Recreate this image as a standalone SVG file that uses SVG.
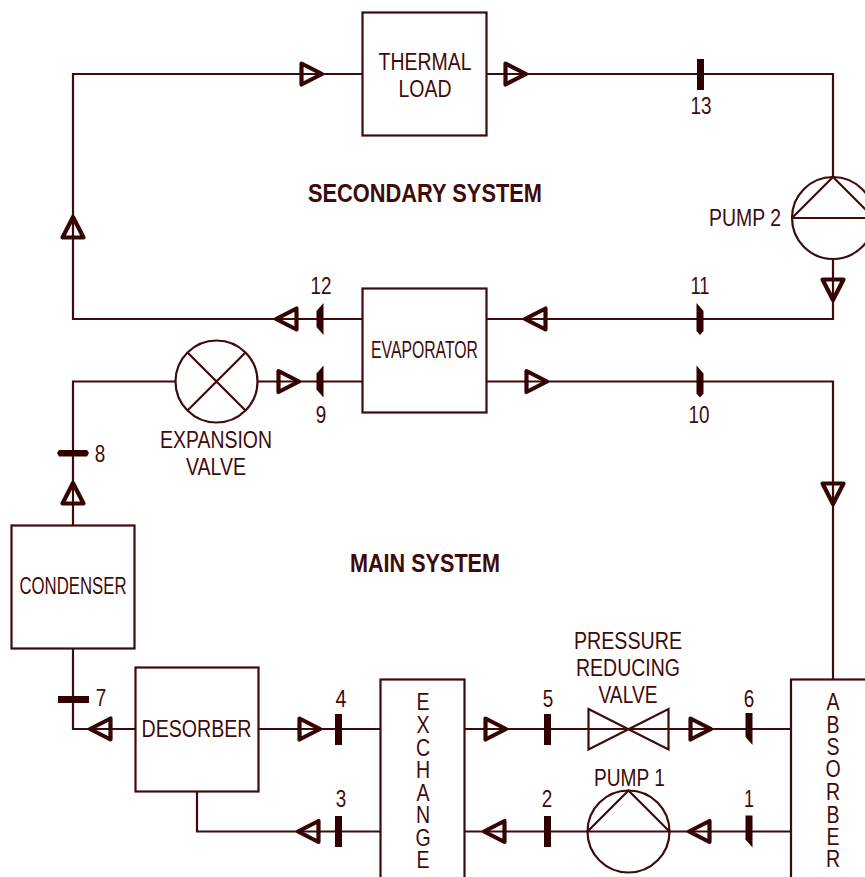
<svg xmlns="http://www.w3.org/2000/svg" width="865" height="877" viewBox="0 0 865 877">
<style>
.l{fill:none;stroke:#3f0a0a;stroke-width:2.2}
.b{fill:#fff;stroke:#3f0a0a;stroke-width:2.2}
.a{fill:none;stroke:#350404;stroke-width:4.200;stroke-linejoin:round}
.t{fill:#300000;stroke:none}
text{font-family:"Liberation Sans",Arial,sans-serif;font-size:23px;fill:#3f0a0a;text-anchor:middle}
.n{font-size:23px}
.h{font-weight:bold;font-size:25px}
</style>
<defs>
<path id="ar" class="a" d="M-9.500-10.500 L11 0 L-9.500 10.500Z"/>
<rect id="bar" class="t" x="-3.500" y="-15.500" width="7" height="31"/>
<path id="tick-a" class="t" d="M-3.500-16 L3.500-16 L3.500 16 L-3.500 8Z"/>
<path id="tick-b" class="t" d="M3.500-16 L3.500 16 L-3.500 8 L-3.500-8Z"/>
<path id="tick-c" class="t" d="M-3.500-16 L3.500-8 L3.500 12 L0 16 L-3.500 12Z"/>
</defs>
<g id="connectors">
<path class="l" d="M362 74H73V319H362M487 74H833V178M833 258V319H487M175 381.500H73V525M258 381.500H362M487 381.500H833V679M73 649V729H135M259 729H380M197 791V831.500H380M465 729H588M668 729H791M465 831.500H587M670 831.500H791"/>
<use href="#ar" x="311" y="74"/>
<use href="#ar" x="515" y="74"/>
<use href="#ar" transform="translate(833,289) rotate(90)"/>
<use href="#ar" transform="translate(536,319) rotate(180)"/>
<use href="#ar" transform="translate(287,319) rotate(180)"/>
<use href="#ar" transform="translate(73,228) rotate(-90)"/>
<use href="#ar" x="288" y="381.500"/>
<use href="#ar" x="536" y="381.500"/>
<use href="#ar" transform="translate(833,493) rotate(90)"/>
<use href="#ar" transform="translate(73,494) rotate(-90)"/>
<use href="#ar" transform="translate(101,729) rotate(180)"/>
<use href="#ar" x="309" y="729"/>
<use href="#ar" x="495" y="729"/>
<use href="#ar" x="700" y="729"/>
<use href="#ar" transform="translate(309,831.500) rotate(180)"/>
<use href="#ar" transform="translate(495,831.500) rotate(180)"/>
<use href="#ar" transform="translate(700,831.500) rotate(180)"/>
<use href="#bar" x="700.500" y="74.500"/>
<use href="#tick-c" x="700" y="319"/>
<use href="#tick-c" x="700" y="381.500"/>
<use href="#tick-b" x="320" y="319"/>
<use href="#tick-b" x="320" y="381.500"/>
<path class="t" d="M59 450H87L89 453L87 456.500H59L57 453Z"/>
<rect class="t" x="58" y="696" width="31" height="7"/>
<use href="#bar" x="338.500" y="729.500"/>
<use href="#bar" x="338.500" y="831.500"/>
<use href="#bar" x="547.500" y="729.500"/>
<use href="#bar" x="547.500" y="831.500"/>
<use href="#tick-a" x="749" y="729"/>
<use href="#tick-a" x="749" y="831.500"/>
</g>
<g id="thermal-load"><rect class="b" x="362.500" y="12.500" width="124" height="123"/><text x="425" y="70" textLength="93" lengthAdjust="spacingAndGlyphs">THERMAL</text><text x="425" y="97" textLength="53" lengthAdjust="spacingAndGlyphs">LOAD</text></g>
<g id="pump-2"><circle class="b" cx="833" cy="218" r="41"/><path class="l" d="M792 218H874M792 218L833 177L874 218"/><text x="745" y="226" textLength="72" lengthAdjust="spacingAndGlyphs">PUMP 2</text></g>
<g id="evaporator"><rect class="b" x="362.500" y="288.500" width="124" height="124"/><text x="424.500" y="358" textLength="107" lengthAdjust="spacingAndGlyphs">EVAPORATOR</text></g>
<g id="expansion-valve"><circle class="b" cx="216.500" cy="381.500" r="41"/><path class="l" d="M187.500 352.500L245.500 410.500M245.500 352.500L187.500 410.500"/><text x="216" y="448" textLength="112" lengthAdjust="spacingAndGlyphs">EXPANSION</text><text x="216" y="475" textLength="60" lengthAdjust="spacingAndGlyphs">VALVE</text></g>
<g id="condenser"><rect class="b" x="11.500" y="525.500" width="123" height="123"/><text x="73" y="594" textLength="107" lengthAdjust="spacingAndGlyphs">CONDENSER</text></g>
<g id="desorber"><rect class="b" x="135.500" y="667.500" width="123" height="124"/><text x="196.500" y="737" textLength="110" lengthAdjust="spacingAndGlyphs">DESORBER</text></g>
<g id="exchange"><rect class="b" x="380.500" y="679.500" width="84" height="210"/><text transform="translate(423,0) scale(.85,1)" x="0 0 0 0 0 0 0 0" y="710 733 756 778 801 823 846 868">EXCHANGE</text></g>
<g id="absorber"><rect class="b" x="791" y="679.500" width="90" height="210"/><text transform="translate(833,0) scale(.85,1)" x="0 0 0 0 0 0 0 0" y="710 733 755 777 800 823 845 867">ABSORBER</text></g>
<g id="pressure-reducing-valve"><path class="b" d="M588.500 709L668.500 749.500V709L588.500 749.500Z"/><path class="l" d="M588 729H668"/><text x="628" y="649" textLength="108" lengthAdjust="spacingAndGlyphs">PRESSURE</text><text x="628" y="676" textLength="104" lengthAdjust="spacingAndGlyphs">REDUCING</text><text x="628" y="703" textLength="59" lengthAdjust="spacingAndGlyphs">VALVE</text></g>
<g id="pump-1"><circle class="b" cx="628.500" cy="831.500" r="41"/><path class="l" d="M587.500 831.500H669.500M587.500 831.500L628.500 790.500L669.500 831.500"/><text x="629.500" y="786" textLength="71" lengthAdjust="spacingAndGlyphs">PUMP 1</text></g>
<g id="labels">
<text class="h" x="425" y="202" textLength="234" lengthAdjust="spacingAndGlyphs">SECONDARY SYSTEM</text>
<text class="h" x="425" y="572" textLength="150" lengthAdjust="spacingAndGlyphs">MAIN SYSTEM</text>
<text class="n" x="701" y="114" textLength="21" lengthAdjust="spacingAndGlyphs">13</text>
<text class="n" x="321" y="294" textLength="21" lengthAdjust="spacingAndGlyphs">12</text>
<text class="n" x="700" y="294" textLength="19" lengthAdjust="spacingAndGlyphs">11</text>
<text class="n" x="321" y="423" textLength="10.500" lengthAdjust="spacingAndGlyphs">9</text>
<text class="n" x="699" y="423" textLength="21" lengthAdjust="spacingAndGlyphs">10</text>
<text class="n" x="100" y="462" textLength="10.500" lengthAdjust="spacingAndGlyphs">8</text>
<text class="n" x="101" y="706" textLength="10.500" lengthAdjust="spacingAndGlyphs">7</text>
<text class="n" x="341" y="707" textLength="11" lengthAdjust="spacingAndGlyphs">4</text>
<text class="n" x="548" y="707" textLength="10.500" lengthAdjust="spacingAndGlyphs">5</text>
<text class="n" x="749" y="707" textLength="10.500" lengthAdjust="spacingAndGlyphs">6</text>
<text class="n" x="341" y="807" textLength="10.500" lengthAdjust="spacingAndGlyphs">3</text>
<text class="n" x="547" y="807" textLength="10.500" lengthAdjust="spacingAndGlyphs">2</text>
<text class="n" x="749" y="807" textLength="10" lengthAdjust="spacingAndGlyphs">1</text>
</g>
</svg>
